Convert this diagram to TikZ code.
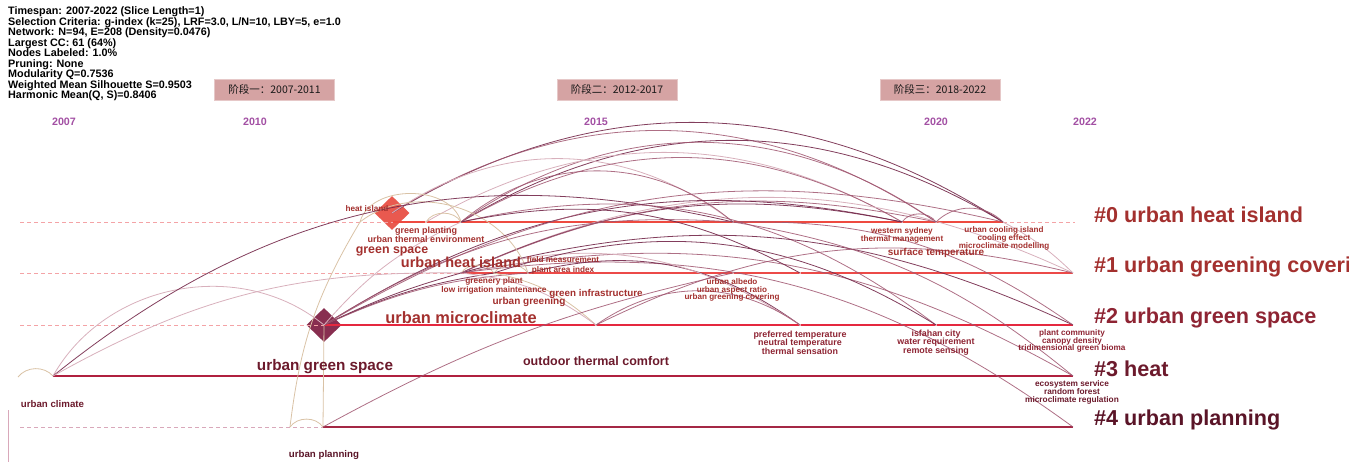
\documentclass[tikz,border=0pt]{standalone}
\usepackage{fontspec}
\setmainfont{Liberation Sans}
\newfontfamily\cjk{Noto Sans CJK SC}
\usetikzlibrary{shapes.geometric}
\definecolor{rowA}{HTML}{EE4A40}
\definecolor{rowB}{HTML}{EC4A48}
\definecolor{rowC}{HTML}{E5283F}
\definecolor{rowD}{HTML}{B0203F}
\definecolor{rowE}{HTML}{A42845}
\definecolor{dashA}{HTML}{F4A3A6}
\definecolor{dashE}{HTML}{D9A8BA}
\definecolor{labA}{HTML}{A3302E}
\definecolor{labC}{HTML}{8E2433}
\definecolor{labD}{HTML}{6C1A2C}
\definecolor{labE}{HTML}{5A1427}
\definecolor{yearc}{HTML}{A24FA3}
\definecolor{stagefill}{HTML}{D5A3A3}
\definecolor{diaA}{HTML}{E9594F}
\definecolor{diaB}{HTML}{882E50}
\definecolor{arcDc}{HTML}{74284A}
\definecolor{arcMc}{HTML}{A05670}
\definecolor{arcLc}{HTML}{D8B0BC}
\definecolor{arcTc}{HTML}{D9C2A5}
\begin{document}
\begin{tikzpicture}[x=1pt,y=-1pt,
  lab/.style 2 args={font=\bfseries\fontsize{#1}{#2}\selectfont,inner sep=0pt,align=center},
  yearlab/.style={font=\bfseries\fontsize{10.7}{11}\selectfont,text=yearc,inner sep=0pt},
  stagebox/.style={fill=stagefill,draw=stagefill!60!white,minimum width=120pt,minimum height=21pt,inner sep=0pt,font=\cjk\fontsize{10.5}{11}\selectfont,text=black!90},
  clus/.style={font=\bfseries\fontsize{21.6}{22}\selectfont,inner sep=0pt,anchor=west},
  dashrow/.style={dash pattern=on 4pt off 3pt,line width=0.8pt},
  rowline/.style={line width=2.8pt},
  arcD/.style={draw=arcDc,line width=0.8pt,opacity=0.9},
  arcM/.style={draw=arcMc,line width=0.8pt,opacity=0.85},
  arcL/.style={draw=arcLc,line width=0.8pt},
  arcT/.style={draw=arcTc,line width=0.8pt},
  dot/.style={fill=white!60!pink,draw=none}]
\useasboundingbox (0,0) rectangle (1349,462);

% header
\node[anchor=north west,inner sep=0pt,align=left,font=\bfseries\fontsize{10.8}{10.5}\selectfont] (hdr) at (8,6.5) {Timespan: 2007-2022 (Slice Length=1)\\
Selection Criteria: g-index (k=25), LRF=3.0, L/N=10, LBY=5, e=1.0\\
Network: N=94, E=208 (Density=0.0476)\\
Largest CC: 61 (64\%)\\
Nodes Labeled: 1.0\%\\
Pruning: None\\
Modularity Q=0.7536\\
Weighted Mean Silhouette S=0.9503\\
Harmonic Mean(Q, S)=0.8406};

% stage boxes
\node[stagebox] (st1) at (274.5,89.5) {阶段一：2007-2011};
\node[stagebox] (st2) at (617,89.5) {阶段二：2012-2017};
\node[stagebox] (st3) at (940,89.5) {阶段三：2018-2022};

% years
\node[yearlab] (y07) at (64,122) {2007};
\node[yearlab] (y10) at (255,122) {2010};
\node[yearlab] (y15) at (596,122) {2015};
\node[yearlab] (y20) at (936,122) {2020};
\node[yearlab] (y22) at (1085,122) {2022};

% coordinates
\coordinate (r0s) at (20,222); \coordinate (r0a) at (360,222); \coordinate (r0b) at (393,222);
\coordinate (r0c) at (426,222); \coordinate (r0d) at (461,222); \coordinate (r0e) at (733,222);
\coordinate (r0f) at (902,222); \coordinate (r0g) at (936,222); \coordinate (r0h) at (1003,222);
\coordinate (r0z) at (1075,222);
\coordinate (r1s) at (20,273); \coordinate (r1a) at (461,273); \coordinate (r1b) at (494,273);
\coordinate (r1c) at (528,273); \coordinate (r1d) at (733,273); \coordinate (r1e) at (800,273);
\coordinate (r1f) at (1073,273);
\coordinate (r2s) at (20,325); \coordinate (r2a) at (324,325); \coordinate (r2b) at (596,325);
\coordinate (r2c) at (800,325); \coordinate (r2d) at (936,325); \coordinate (r2e) at (1073,325);
\coordinate (r3x) at (18,377); \coordinate (r3a) at (53,376); \coordinate (r3b) at (1073,376);
\coordinate (r4s) at (20,427); \coordinate (r4a) at (290,427); \coordinate (r4b) at (323,427);
\coordinate (r4c) at (1073,427);
\coordinate (vt) at (8,410); \coordinate (vb) at (8,462);

% diamonds
\node[diamond,minimum width=35pt,minimum height=34pt,inner sep=0pt,fill=diaA] (HI) at (392,213) {};
\node[diamond,minimum width=35pt,minimum height=34pt,inner sep=0pt,fill=diaB] (UM) at (324,325) {};

% dashed rows
\draw[dashrow,draw=dashA] (r0s) -- (r0b);
\draw[dashrow,draw=dashA] (r0h) -- (r0z);
\draw[dashrow,draw=dashA] (r1s) -- (r1a);
\draw[dashrow,draw=dashA] (r2s) -- (r2a);
\draw[dashrow,draw=dashE] (r4s) -- (r4b);
\draw[draw=dashE,line width=1pt] (vt) -- (vb);

% solid rows
\draw[rowline,draw=rowA] (r0b) -- (r0h);
\draw[rowline,draw=rowB] (r1a) -- (r1f);
\draw[rowline,draw=rowC] (r2a) -- (r2e);
\draw[rowline,draw=rowD] (r3a) -- (r3b);
\draw[rowline,draw=rowE] (r4b) -- (r4c);
\foreach \p in {r0c,r0d,r0e,r0f,r0g,r1b,r1c,r1d,r1e,r2b,r2c,r2d}{\fill[dot] (\p) circle (1.1pt);}

% arcs: top
\draw[arcD] (HI.center) to[bend left=32] (r0h);
\draw[arcM] (HI.center) to[bend left=33] (r0g);
\draw[arcD] (r0d) to[bend left=31] (r0h);
\draw[arcM] (r0d) to[bend left=35] (r0g);
\draw[arcL] (r0c) to[bend left=30] (r0f);
\draw[arcL] (HI.center) to[bend left=36] (r0e);
\draw[arcM] (r0d) to[bend left=40] (r0e);
\draw[arcM] (r0d) to[bend left=30] (r0f);
\draw[arcL] (r1a) to[bend left=25] (r1f);
\draw[arcD] (r1a) to[bend left=18] (r0f);
\draw[arcM] (r1a) to[bend left=18] (r0g);
% short arcs
\draw[arcT] (r0a) to[bend left=75] (r0d);
\draw[arcT] (r0a) to[bend left=55] (r1c);
\draw[arcT] (r0c) to[bend left=60] (r0d);
\draw[arcM] (r0f) to[bend left=55] (r0g);
\draw[arcM] (r0g) to[bend left=45] (r0h);
\draw[arcT] (r1a) to[bend left=55] (r1b);
\draw[arcT] (r1b) to[bend left=55] (r1c);
\draw[arcT] (r4a) to[bend left=55] (r4b);
\draw[arcT] (r3x) to[bend left=50] (r3a);
\draw[arcT] (r4b) -- (UM.center);
\draw[arcT] (r4a) to[bend left=12] (r0a);
% from the left
\draw[arcL] (r3a) to[bend left=50] (UM.center);
\draw[arcD] (r3a) to[bend left=26] (r0e);
\draw[arcL] (r3a) to[bend left=15] (r1a);
% fan from urban microclimate
\draw[arcD] (UM.center) to[bend left=5] (r1a);
\draw[arcD] (UM.center) to[bend left=8] (r1b);
\draw[arcM] (UM.center) to[bend left=10] (r1c);
\draw[arcD] (UM.center) to[bend left=22] (r0f);
\draw[arcM] (UM.center) to[bend left=22] (r0h);
\draw[arcM] (UM.center) to[bend left=18] (r0e);
\draw[arcL] (UM.center) to[bend left=12] (r0d);
% descending arcs
\draw[arcM] (r1a) to[bend left=20] (r3b);
\draw[arcM] (r1a) to[bend left=22] (r4c);
\draw[arcD] (r1c) to[bend left=25] (r2c);
\draw[arcL] (r1a) to[bend left=25] (r2c);
\draw[arcM] (r0d) to[bend left=25] (r2d);
\draw[arcD] (r1b) to[bend left=25] (r2d);
\draw[arcM] (r2b) to[bend left=20] (r1f);
\draw[arcD] (r1a) to[bend left=20] (r2e);
\draw[arcM] (r0e) to[bend left=15] (r3b);
\draw[arcM] (r2b) to[bend left=35] (r2c);
\draw[arcL] (r0h) to[bend left=8] (r1f);
\draw[arcT] (r1b) to[bend left=15] (r2b);
\draw[arcL] (r1a) to[bend left=15] (r2b);
\draw[arcM] (r4b) to[bend left=8] (r1d);
\draw[arcD] (r0d) to[bend left=20] (r1e);
\draw[arcM] (r0e) to[bend left=18] (r2e);

% node labels
\node[lab={8.2}{9},text=labA] (l1) at (367,209) {heat island};
\node[lab={9}{8.3}] [text=labA] (l2) at (426,235) {green planting\\urban thermal environment};
\node[lab={12.4}{13},text=labA] (l3) at (392,251) {green space};
\node[lab={14.5}{15},text=labA] (l4) at (461,262) {urban heat island};
\node[lab={8.2}{9.6},text=labA] (l5) at (563,265.5) {field measurement\\plant area index};
\node[lab={8.3}{7.5},text=labA] (l6) at (494,286) {greenery plant\\low irrigation maintenance};
\node[lab={10}{11},text=labA] (l7) at (529,302) {urban greening};
\node[lab={9.8}{10},text=labA] (l8) at (596,294) {green infrastructure};
\node[lab={16.4}{17},text=labA] (l9) at (461,318) {urban microclimate};
\node[lab={8.1}{7.8},text=labA] (l10) at (732,290) {urban albedo\\urban aspect ratio\\urban greening covering};
\node[lab={8.2}{7.7},text=labA] (l11) at (902,235.3) {western sydney\\thermal management};
\node[lab={8.1}{7.6},text=labA] (l12) at (1004,238.5) {urban cooling island\\cooling effect\\microclimate modelling};
\node[lab={10}{11},text=labA] (l13) at (936,252.5) {surface temperature};
\node[lab={8.9}{8.5},text=labC] (l14) at (800,342.5) {preferred temperature\\neutral temperature\\thermal sensation};
\node[lab={8.9}{8.5},text=labC] (l15) at (936,342.5) {isfahan city\\water requirement\\remote sensing};
\node[lab={8.2}{7.8},text=labC] (l16) at (1072,341) {plant community\\canopy density\\tridimensional green bioma};
\node[lab={15.3}{16},text=labD] (l17) at (325,367) {urban green space};
\node[lab={12.5}{13},text=labD] (l18) at (596,361) {outdoor thermal comfort};
\node[lab={8.3}{7.7},text=labD] (l19) at (1072,392.3) {ecosystem service\\random forest\\microclimate regulation};
\node[lab={9.7}{10},text=labD] (l20) at (52.5,404) {urban climate};
\node[lab={9.7}{10},text=labE] (l21) at (324,455) {urban planning};

% cluster labels
\node[clus,text=labA] (c0) at (1094,215) {\#0 urban heat island};
\node[clus,text=labA] (c1) at (1094,267) {\#1 urban greening coveri};
\node[clus,text=labC] (c2) at (1094,318) {\#2 urban green space};
\node[clus,text=labD] (c3) at (1094,369) {\#3 heat};
\node[clus,text=labE] (c4) at (1094,420) {\#4 urban planning};
\end{tikzpicture}
\end{document}
